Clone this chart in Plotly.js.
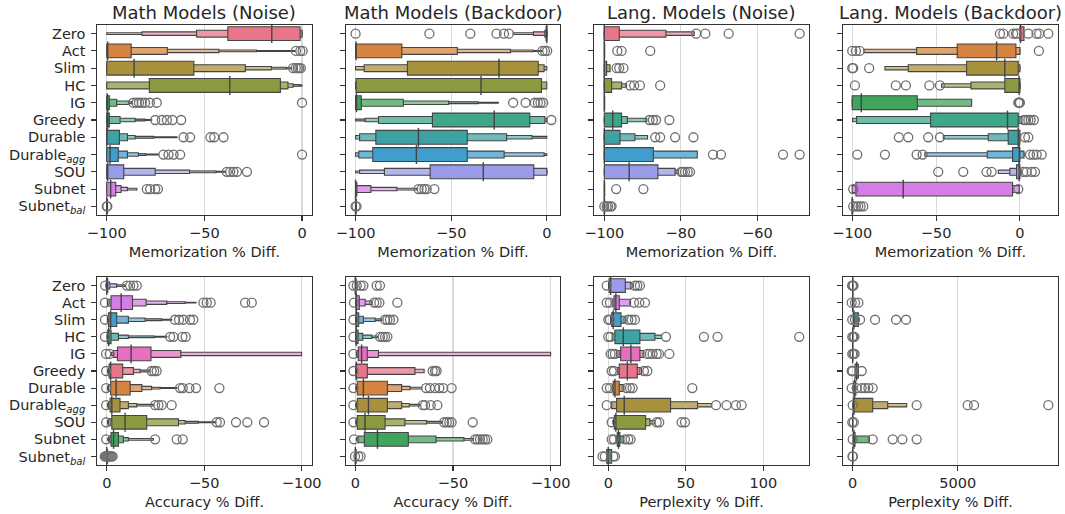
<!DOCTYPE html>
<html><head><meta charset="utf-8">
<script src="https://cdn.plot.ly/plotly-3.0.1.min.js"></script>
<style>body{margin:0;background:#fff}#chart{width:1065px;height:514px}</style>
</head><body><div id="chart"></div>
<script>
// ---------------- data ----------------
const categories = ['Zero','Act','Slim','HC','IG','Greedy','Durable','Durable<sub><i>agg</i></sub>','SOU','Subnet','Subnet<sub><i>bal</i></sub>'];
const palette = ['#e8758a','#d4843e','#a8913c','#8a9b3f','#40a45c','#3da68b','#3ea1a4','#3f9ecb','#9a9ce9','#d47de6','#e570bf'];
const topColorIndex = [0,1,2,3,4,5,6,7,8,9,10];
const bottomColorIndex = [8,9,7,6,10,0,1,2,3,4,5];

const panelTitles = ['Math Models (Noise)','Math Models (Backdoor)','Lang. Models (Noise)','Lang. Models (Backdoor)'];
const xTitles = ['Memorization % Diff.','Memorization % Diff.','Memorization % Diff.','Memorization % Diff.',
                 'Accuracy % Diff.','Accuracy % Diff.','Perplexity % Diff.','Perplexity % Diff.'];
const xTicks = [[-100,-50,0],[-100,-50,0],[-100,-80,-60],[-100,-50,0],[0,-50,-100],[0,-50,-100],[0,50,100],[0,5000]];

// letter-value boxes per category: [low, high] from innermost (IQR) outward
const mathNoiseBoxes = [
  [[-38,-1],[-54,0],[-82,0],[-100,0]],
  [[-100,-87.5],[-100,-69],[-100,-42.6],[-100,-23.3],[-100,-3.7]],
  [[-100,-55.4],[-100,-29],[-100,-15.7],[-100,-8],[-100,-5.5]],
  [[-78.2,-11.1],[-100,-7.2],[-100,-4.6],[-100,-1],[-100,0]],
  [[-100,-98.7],[-100,-94.9],[-100,-88.9],[-100,-87]],
  [[-100,-98.7],[-100,-93.2],[-100,-85.5],[-100,-80.4],[-100,-77]],
  [[-100,-93.5],[-100,-89.4],[-100,-85.5],[-100,-76],[-100,-64.1]],
  [[-100,-94.1],[-100,-89.4],[-100,-83.8],[-100,-80],[-100,-73.5]],
  [[-100,-91.3],[-100,-75.2],[-100,-57.6],[-100,-44],[-100,-39.3]],
  [[-100,-95.4],[-100,-92.7],[-100,-89.4],[-100,-84.6]],
  [[-100,-99.6]]
];
const mathNoiseMedian = [-15.5,-99.5,-86,-37,-99.7,-99.5,-100,-98.3,-99.5,-98,-100];
const mathNoiseOutliers = [
  [], [-3.1,-0.9,0.3], [-4.6,-3.2,-2.2,-1.4,-0.6], [],
  [-86.4,-84.7,-83.5,-82.1,-80.4,-77.9,-74.4,0],
  [-75.2,-71.8,-69.2,-66.4,-61.9],
  [-60.7,-57.3,-46.9,-45,-40.2],
  [-71,-68.4,-65.8,-62.4,0],
  [-38.5,-36.8,-35.1,-33.3,-28.2],
  [-79.5,-77.8,-75.2,-73.8],
  [-100,-99.7]
];

const mathBackdoorBoxes = [
  [[-0.4,0],[-1,0],[-7,0],[-17.6,0]],
  [[-100,-75.8],[-100,-46.8],[-100,-19],[-100,-7.1],[-100,-2.8]],
  [[-72.9,-4.5],[-95.5,-1.4],[-100,0]],
  [[-99.7,-2.8],[-100,0]],
  [[-100,-97],[-100,-75],[-100,-51.3],[-100,-35.8],[-100,-25.4]],
  [[-59.8,-8.9],[-88,-1],[-95,0],[-100,0]],
  [[-89.4,-41.6],[-97.9,-21],[-100,-7.7],[-100,0]],
  [[-91,-41.6],[-98.3,-22.3],[-100,-1.4],[-100,0]],
  [[-61,-6.8],[-84.9,0],[-97.9,0],[-100,0]],
  [[-100,-99.3],[-100,-92],[-100,-78.4],[-100,-68]],
  [[-100,-99.6]]
];
const mathBackdoorMedian = [0,-99.7,-25,-34.4,-99.5,-27.5,-67.1,-68.2,-33.2,-100,-100];
const mathBackdoorOutliers = [
  [-100,-61.4,-40,-26.3,-22.4,-19.8], [-2.3,-1,0.2], [], [],
  [-17.6,-11.1,-6.3,-4.7,-3.3,-1.9], [2.4], [], [], [],
  [-67.1,-65.4,-64,-62.8,-58.8], [-100,-99.5]
];

const langNoiseBoxes = [
  [[-100,-96.1],[-100,-83.9],[-100,-76.5]],
  [[-100,-99.9]],
  [[-100,-99.4],[-100,-98.5]],
  [[-100,-98.1],[-100,-95.5],[-100,-94.2]],
  [[-100,-99.9]],
  [[-100,-95.5],[-100,-94],[-100,-88.9]],
  [[-100,-95.9],[-100,-92],[-100,-88.7]],
  [[-100,-87.2],[-100,-75.7]],
  [[-100,-86],[-100,-81.5],[-100,-80.6]],
  [[-100,-99.9]],
  [[-100,-99.9]]
];
const langNoiseMedian = [-100,-100,-100,-100,-100,-97.8,-100,-100,-93.5,-100,-100];
const langNoiseOutliers = [
  [-76,-73.6,-67.5,-48.95], [-96.6,-95.5,-88], [-96.8,-96.1,-95],
  [-93.3,-92.2,-90.7,-85.4], [], [-88.2,-87.3,-86.5,-83],
  [-86.7,-85.4,-81.5,-76.7], [-71.6,-69.5,-53.3,-48.95],
  [-79.9,-79.5,-78.9,-78.2,-77.6], [-96.9,-89.8], [-100,-99.4,-99,-98.4,-98.1]
];

const langBackdoorBoxes = [
  [[0,2.4]],
  [[-37.4,-2.4],[-61.6,0],[-93,0]],
  [[-31.8,-1],[-66.6,0],[-80.5,0]],
  [[-9,0],[-29.2,0],[-46.7,0]],
  [[-100,-61.2],[-100,-28.8]],
  [[-53.3,-1],[-97.4,1],[-99.8,1]],
  [[-7,0],[-18.9,0],[-45.7,0]],
  [[-4.4,0],[-19.5,2.4],[-56.7,2.4]],
  [[-2,0],[-6,0.6],[-12.9,0.6]],
  [[-97.8,-4.4],[-100,-0.4]],
  [[-100,-99.6]]
];
const langBackdoorMedian = [0.4,-13.9,-9,-0.5,-94.6,-7.4,-1,-0.4,-0.5,-69.6,-100];
const langBackdoorOutliers = [
  [-11.9,-9.9,-4,-2.4,-1.6,5,9.9,11.5,16.9], [-100,-97.8,-95.6,11.3], [-100,-99.4,-89.9],
  [-98.4,-74,-68,-54,-47.7], [-1,-0.5,0], [2.4,3.6,5,6.4,8.3],
  [-72.2,-66.6,-54.7,-47.7,3,5], [-97,-80.5,-61.6,-58,6,8,10,13],
  [-48.7,-33.8,-19.9,-16.9,2,4,7,9], [-99.4,-1], [-99.4,-97.8,-96.4,-95,-93.4]
];

const mathAccBoxes = [
  [[-0.5,0],[-1.5,0.2],[-5.1,0.3],[-9.4,0.3]],
  [[-13.2,-2.2],[-20.2,-0.5],[-30.8,-0.5],[-40.2,-0.5],[-45.8,-0.5]],
  [[-5.1,-0.9],[-11.1,-0.5],[-19.7,-0.5],[-28.2,-0.5],[-33.3,-0.5]],
  [[-2.2,-0.5],[-6,-0.3],[-11.1,-0.3],[-24.4,-0.3],[-30.8,-0.3]],
  [[-22.7,-5.5],[-38,-3.4],[-100,-2.5]],
  [[-8.2,-1.2],[-13.7,-0.8],[-17.1,-0.5],[-22.2,-0.5]],
  [[-12,-2],[-18,-0.8],[-23,-0.5],[-27.4,-0.5],[-35.9,-0.5]],
  [[-6.8,-1.7],[-11.1,-0.8],[-15.4,-0.5],[-23.9,-0.5]],
  [[-20.5,-2.6],[-36.8,-0.8],[-40.2,-0.5],[-47,-0.5],[-56,-0.5]],
  [[-6,-2.2],[-8.5,-1.2],[-11.1,-0.8],[-23.9,-0.5]],
  [[-0.4,0]]
];
const mathAccMedian = [0,-7.4,-2,-1,-12.5,-2,-4.8,-2.6,-9.4,-3.5,0];
const mathAccOutliers = [
  [0.8,-10.3,-12,-13.7,-15.4], [0.9,-49.6,-51.3,-53.3,-71,-74.4],
  [0.9,-35,-37.1,-39.3,-42.7,-44.4], [0.9,-32.5,-34.2,-38.8,-40.5],
  [0.3,-1.5], [0.3,-23,-24.3,-25.6], [0.3,-37.6,-39,-42.4,-45.8,-57.8],
  [0.3,-24.8,-26.5,-28.2,-33.3], [0.3,-56.4,-58.1,-66.3,-72.1,-80.7],
  [0.3,-24.8,-35.9,-39], [1,0.5,0,-0.5,-1,-1.5,-2,-2.5,-3]
];

const mathBdAccBoxes = [
  [[-0.4,0]],
  [[-2,-0.3],[-5,-0.2],[-8.4,-0.2]],
  [[-1.7,-0.3],[-4.1,-0.2],[-10.1,-0.2],[-13.5,-0.2]],
  [[-1.4,-0.3],[-3.8,-0.2],[-8.4,-0.2],[-11.3,-0.2]],
  [[-6.1,-1.5],[-11.8,-0.7],[-100,-0.5]],
  [[-6.1,-0.3],[-30.5,-0.2],[-35.2,-0.2]],
  [[-16.4,-1],[-23.7,-0.5],[-28,-0.3],[-34,-0.3]],
  [[-16.4,-1],[-23.7,-0.5],[-27.6,-0.3],[-33.1,-0.3]],
  [[-15.2,-1],[-25.4,-0.5],[-36.5,-0.3],[-44.2,-0.3]],
  [[-27.1,-4.6],[-41.3,-1.5],[-55.6,-0.8],[-60.4,-0.5]],
  [[-0.4,0]]
];
const mathBdAccMedian = [0,-0.5,-0.5,-0.4,-3.2,-0.5,-4.1,-6.7,-4.9,-11.3,0];
const mathBdAccOutliers = [
  [1,-0.7,-2.7,-4.1,-10.9,-12.6], [0.7,-9.6,-10.9,-12.3,-21.5],
  [1,-15.2,-16.4,-17.7,-19.5], [1,-12.6,-14,-15.2,-16.4], [1],
  [1,-39.6,-40.8,-41.6], [1,-36.2,-38.2,-40.8,-43,-45,-49.3],
  [1,-34.5,-35.7,-38.6,-42], [1,-45.4,-46.8,-48.1,-49.3,-60.1],
  [0.7,-61.3,-62.5,-63.8,-65.2,-66.4,-67.6], [0.2,-1.5,-2.7]
];

const langPplBoxes = [
  [[0.6,11],[0.3,14.4],[0.3,16.1]],
  [[3.7,7.1],[2.5,14.4]],
  [[2.2,8.2],[1.5,11.4]],
  [[4.3,20.4],[2.8,30.1],[2.5,34.4]],
  [[8,20.4],[5.4,23]],
  [[7.1,18.7],[5.8,21.5]],
  [[3.2,7.1],[2.5,10.1]],
  [[5.4,40.2],[2.2,57.6],[2,66.7]],
  [[3.9,24.1],[3.5,26.9],[3,30.1]],
  [[5.8,7.5],[5,9.7]],
  [[-1,2.2]]
];
const langPplMedian = [1.5,4.9,3.2,9.7,14.6,12.3,4.3,10.3,4.9,6.6,0];
const langPplOutliers = [
  [-1,17.2,18.7,20.4], [-1,1.1,16.6,20,23.7], [0,1.1,12.9,15.1,17.2],
  [0,1.5,37.2,61.7,70.5,123.2], [1.5,2.8,4.3,25.2,26.9,28.6,31.2,32.7,39.4],
  [2.2,3.7,23,25.2], [-1,1.1,11.8,14,15.7,54.2], [-1,69.5,76.3,82.4,86],
  [2.2,31.2,32.9,47.3,49.5], [2.2,3.7,10.8,12.9,14.4], [-3.7,-2.2,3.2,4.3]
];

const langBdPplBoxes = [
  [[-5,5]], [[-5,10]], [[30,270]], [[-5,5]], [[-5,5]], [[111,270]], [[50,150]],
  [[32,952],[20,1666],[10,2571]], [[-5,5]], [[32,111],[20,794]], [[-5,5]]
];
const langBdPplMedian = [0,0,60,0,0,190,100,60,0,60,0];
const langBdPplOutliers = [
  [-30,0,40], [-48,111,270], [-20,110,350,1063,2063,2540], [-20,30,80], [-20,40,90],
  [-48,0,428], [-48,190,428,587,746,952], [0,3047,5475,5777,9316], [-20,50],
  [0,952,1904,2365,3047], [-10,10]
];

// ---------------- layout helpers (positions / styles) ----------------
const W = 1065, H = 514;
const colPx = [[97,312],[346,560],[594,809],[843,1058]];
const rowPx = [[25,215],[277,465]];
const xRanges = [[-105,5.1],[-105,6.9],[-102.7,-46.5],[-105.5,22.7],[5,-105.3],[4.8,-104.8],[-9.2,129.5],[-462,9776]];
const edge = '#444444';
const shadeMix = [0, 0.25, 0.42, 0.55, 0.65];

function shade(hex, j) {
  const t = shadeMix[Math.min(j, shadeMix.length-1)];
  const r = parseInt(hex.slice(1,3),16), g = parseInt(hex.slice(3,5),16), b = parseInt(hex.slice(5,7),16);
  const m = v => Math.round(v + (255 - v) * t);
  return `rgb(${m(r)},${m(g)},${m(b)})`;
}

const panels = [
  [mathNoiseBoxes, mathNoiseMedian, mathNoiseOutliers, topColorIndex],
  [mathBackdoorBoxes, mathBackdoorMedian, mathBackdoorOutliers, topColorIndex],
  [langNoiseBoxes, langNoiseMedian, langNoiseOutliers, topColorIndex],
  [langBackdoorBoxes, langBackdoorMedian, langBackdoorOutliers, topColorIndex],
  [mathAccBoxes, mathAccMedian, mathAccOutliers, bottomColorIndex],
  [mathBdAccBoxes, mathBdAccMedian, mathBdAccOutliers, bottomColorIndex],
  [langPplBoxes, langPplMedian, langPplOutliers, bottomColorIndex],
  [langBdPplBoxes, langBdPplMedian, langBdPplOutliers, bottomColorIndex]
];

const traces = [];
const layout = {
  width: W, height: H, margin: {l:0,r:0,t:0,b:0},
  paper_bgcolor: '#fff', plot_bgcolor: '#fff',
  barmode: 'overlay', showlegend: false,
  font: {family: 'DejaVu Sans', color: '#262626', size: 14.5},
  annotations: []
};

panels.forEach((pn, p) => {
  const [boxes, med, out, cidx] = pn;
  const sfx = p === 0 ? '' : String(p+1);
  const xa = 'x' + sfx, ya = 'y' + sfx;
  const maxLv = Math.max(...boxes.map(b => b.length));
  for (let j = maxLv-1; j >= 0; j--) {
    const y=[], base=[], x=[], w=[], c=[];
    boxes.forEach((lv, i) => {
      if (lv.length > j) {
        y.push(i); base.push(lv[j][0]); x.push(lv[j][1]-lv[j][0]);
        w.push(0.8*Math.pow(0.5, j)); c.push(shade(palette[cidx[i]], j));
      }
    });
    traces.push({type:'bar', orientation:'h', y, x, base, width:w,
      marker:{color:c, line:{color:edge, width:1.1}}, xaxis:xa, yaxis:ya, hoverinfo:'skip'});
  }
  traces.push({type:'scatter', mode:'markers', x: med, y: med.map((_,i)=>i),
    marker:{symbol:'line-ns', size:13.5, color:edge, line:{color:edge, width:1.4}},
    xaxis:xa, yaxis:ya, hoverinfo:'skip'});
  const ox=[], oy=[];
  out.forEach((arr,i) => arr.forEach(v => { ox.push(v); oy.push(i); }));
  traces.push({type:'scatter', mode:'markers', x: ox, y: oy,
    marker:{symbol:'circle-open', size:9, color:'#6e6e6e', line:{color:'#6e6e6e', width:1.3}},
    xaxis:xa, yaxis:ya, hoverinfo:'skip'});

  const col = p % 4, row = Math.floor(p / 4);
  const xd = [colPx[col][0]/W, colPx[col][1]/W];
  const yd = [1 - rowPx[row][1]/H, 1 - rowPx[row][0]/H];
  layout['xaxis'+sfx] = {
    domain: xd, anchor: ya, range: xRanges[p], autorange: false,
    tickmode: 'array', tickvals: xTicks[p],
    showgrid: true, gridcolor: '#d9d9d9', gridwidth: 1.1, zeroline: false,
    showline: true, mirror: true, linecolor: '#333', linewidth: 1.2,
    ticks: 'outside', ticklen: 4.5, tickwidth: 1.1, tickcolor: '#333',
    tickfont: {size: 14.5, color: '#262626'},
    title: {text: xTitles[p], font: {size: 14.5, color: '#262626'}, standoff: 6},
    automargin: false
  };
  layout['yaxis'+sfx] = {
    domain: yd, anchor: xa, range: [10.5, -0.5], autorange: false,
    tickmode: 'array', tickvals: categories.map((_,i)=>i), ticktext: categories,
    showticklabels: col === 0, showgrid: false, zeroline: false,
    showline: true, mirror: true, linecolor: '#333', linewidth: 1.2,
    ticks: 'outside', ticklen: 4.5, tickwidth: 1.1, tickcolor: '#333',
    tickfont: {size: 14.5, color: '#262626'}, ticklabelstandoff: 3,
    automargin: false
  };
  if (row === 0) {
    layout.annotations.push({text: panelTitles[col], xref:'paper', yref:'paper',
      x: (xd[0]+xd[1])/2, y: 1 - 12/H, xanchor:'center', yanchor:'middle',
      showarrow:false, font:{size:18, color:'#262626'}});
  }
});

Plotly.newPlot('chart', traces, layout, {staticPlot: true, displayModeBar: false});
</script>
</body></html>
